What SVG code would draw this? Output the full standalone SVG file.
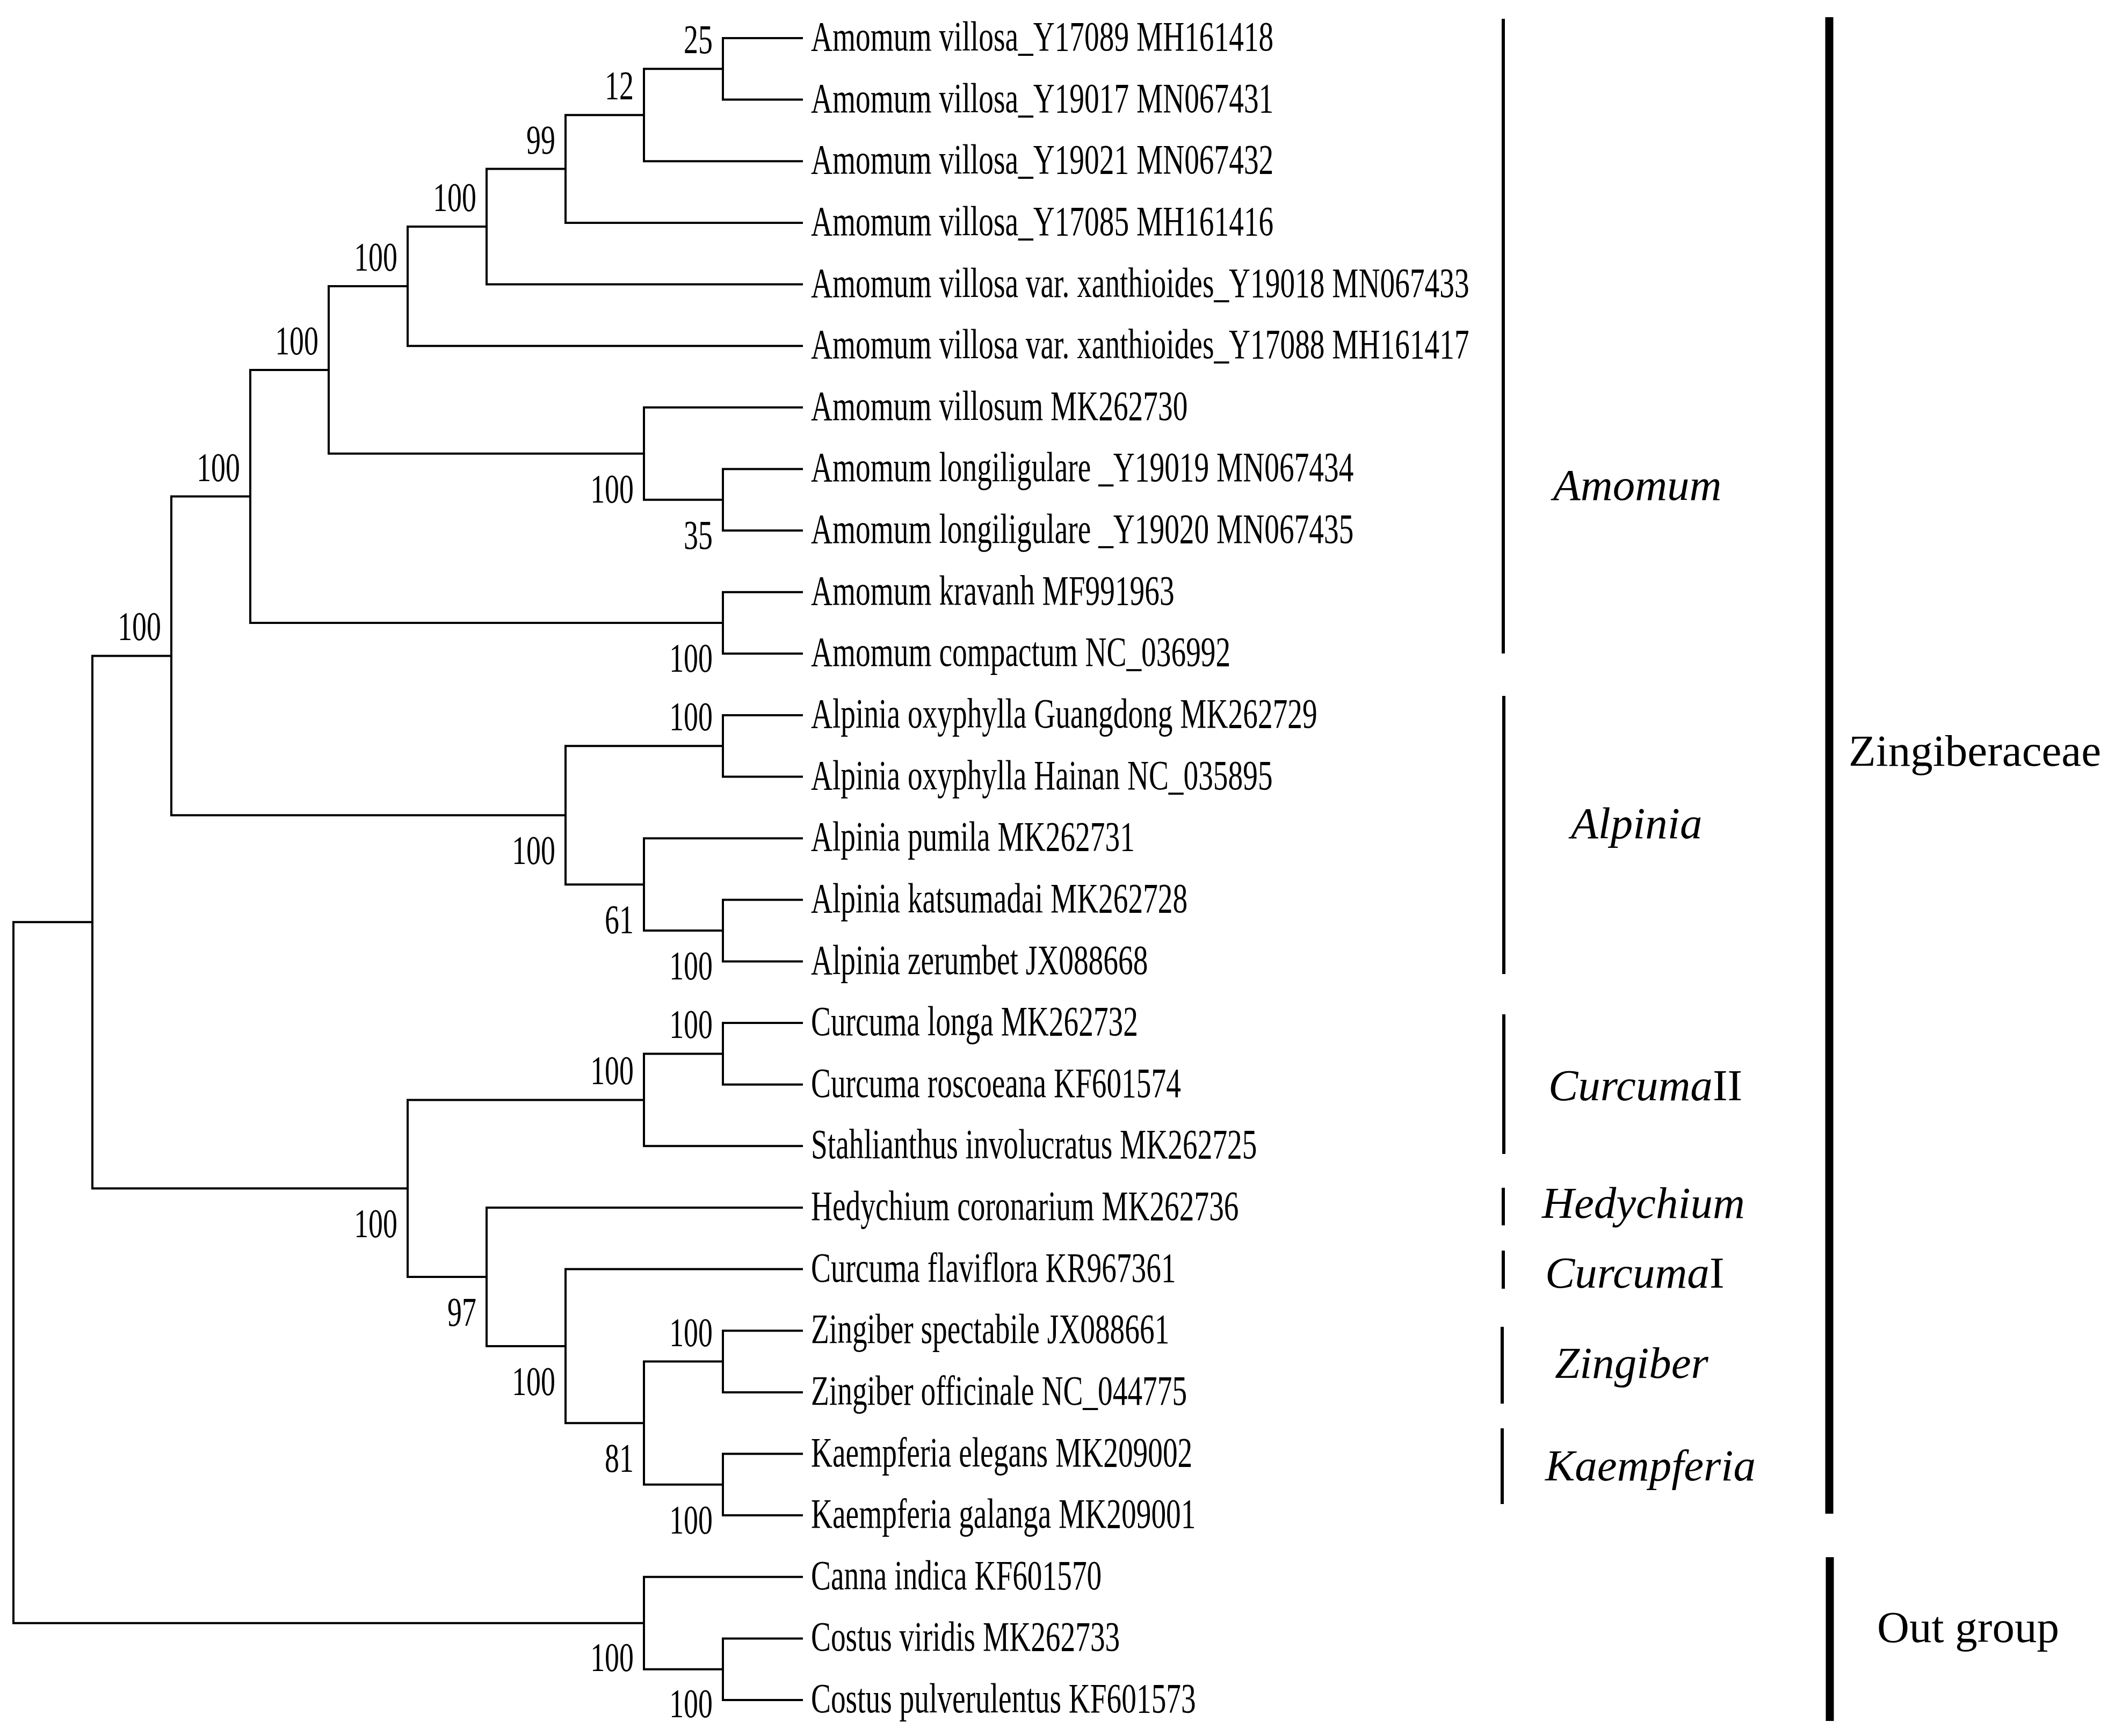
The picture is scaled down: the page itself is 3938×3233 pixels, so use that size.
<svg xmlns="http://www.w3.org/2000/svg" width="3938" height="3233" viewBox="0 0 3938 3233">
<style>
.br{fill:none;stroke:#000;stroke-width:4;stroke-linecap:square;stroke-linejoin:miter}
.tx{font-family:"Liberation Serif","Times New Roman",serif;font-size:78px;fill:#000}
.bs{font-family:"Liberation Serif","Times New Roman",serif;font-size:77px;fill:#000;text-anchor:end}
.gn{font-family:"Liberation Serif","Times New Roman",serif;font-size:83px;font-style:italic;fill:#000}
.fm{font-family:"Liberation Serif","Times New Roman",serif;font-size:83px;fill:#000}
.gb{stroke:#000;stroke-width:6}
.fb{stroke:#000;stroke-width:15}
</style>
<rect width="3938" height="3233" fill="#fff"/>
<g id="connectors">
<path class="br" d="M1493,71 H1346 V185.6 H1493"/>
<path class="br" d="M1346,128.3 H1199 V300.3 H1493"/>
<path class="br" d="M1199,214.3 H1053 V414.9 H1493"/>
<path class="br" d="M1053,314.6 H906 V529.5 H1493"/>
<path class="br" d="M906,422 H759 V644.2 H1493"/>
<path class="br" d="M1493,873.4 H1346 V988 H1493"/>
<path class="br" d="M1493,758.8 H1199 V930.7 H1346"/>
<path class="br" d="M759,533.1 H612 V844.8 H1199"/>
<path class="br" d="M1493,1102.7 H1346 V1217.3 H1493"/>
<path class="br" d="M612,689 H466 V1160 H1346"/>
<path class="br" d="M1493,1331.9 H1346 V1446.6 H1493"/>
<path class="br" d="M1493,1675.8 H1346 V1790.5 H1493"/>
<path class="br" d="M1493,1561.2 H1199 V1733.1 H1346"/>
<path class="br" d="M1346,1389.2 H1053 V1647.2 H1199"/>
<path class="br" d="M466,924.5 H319 V1518.2 H1053"/>
<path class="br" d="M1493,1905.1 H1346 V2019.7 H1493"/>
<path class="br" d="M1346,1962.4 H1199 V2134.3 H1493"/>
<path class="br" d="M1493,2478.2 H1346 V2592.9 H1493"/>
<path class="br" d="M1493,2707.5 H1346 V2822.1 H1493"/>
<path class="br" d="M1346,2535.6 H1199 V2764.8 H1346"/>
<path class="br" d="M1493,2363.6 H1053 V2650.2 H1199"/>
<path class="br" d="M1493,2249 H906 V2506.9 H1053"/>
<path class="br" d="M1199,2048.4 H759 V2378 H906"/>
<path class="br" d="M319,1221.4 H172 V2213.2 H759"/>
<path class="br" d="M1493,3051.4 H1346 V3166 H1493"/>
<path class="br" d="M1493,2936.8 H1199 V3108.7 H1346"/>
<path class="br" d="M172,1717.3 H25 V3022.8 H1199"/>
</g>
<g id="leaves">
<g id="leaf1"><text class="tx" transform="translate(1510,94) scale(0.71,1)">Amomum villosa_Y17089 MH161418</text></g>
<g id="leaf2"><text class="tx" transform="translate(1510,208.6) scale(0.71,1)">Amomum villosa_Y19017 MN067431</text></g>
<g id="leaf3"><text class="tx" transform="translate(1510,323.3) scale(0.71,1)">Amomum villosa_Y19021 MN067432</text></g>
<g id="leaf4"><text class="tx" transform="translate(1510,437.9) scale(0.71,1)">Amomum villosa_Y17085 MH161416</text></g>
<g id="leaf5"><text class="tx" transform="translate(1510,552.5) scale(0.71,1)">Amomum villosa var. xanthioides_Y19018 MN067433</text></g>
<g id="leaf6"><text class="tx" transform="translate(1510,667.2) scale(0.71,1)">Amomum villosa var. xanthioides_Y17088 MH161417</text></g>
<g id="leaf7"><text class="tx" transform="translate(1510,781.8) scale(0.71,1)">Amomum villosum MK262730</text></g>
<g id="leaf8"><text class="tx" transform="translate(1510,896.4) scale(0.71,1)">Amomum longiligulare _Y19019 MN067434</text></g>
<g id="leaf9"><text class="tx" transform="translate(1510,1011) scale(0.71,1)">Amomum longiligulare _Y19020 MN067435</text></g>
<g id="leaf10"><text class="tx" transform="translate(1510,1125.7) scale(0.71,1)">Amomum kravanh MF991963</text></g>
<g id="leaf11"><text class="tx" transform="translate(1510,1240.3) scale(0.71,1)">Amomum compactum NC_036992</text></g>
<g id="leaf12"><text class="tx" transform="translate(1510,1354.9) scale(0.71,1)">Alpinia oxyphylla Guangdong MK262729</text></g>
<g id="leaf13"><text class="tx" transform="translate(1510,1469.6) scale(0.71,1)">Alpinia oxyphylla Hainan NC_035895</text></g>
<g id="leaf14"><text class="tx" transform="translate(1510,1584.2) scale(0.71,1)">Alpinia pumila MK262731</text></g>
<g id="leaf15"><text class="tx" transform="translate(1510,1698.8) scale(0.71,1)">Alpinia katsumadai MK262728</text></g>
<g id="leaf16"><text class="tx" transform="translate(1510,1813.5) scale(0.71,1)">Alpinia zerumbet JX088668</text></g>
<g id="leaf17"><text class="tx" transform="translate(1510,1928.1) scale(0.71,1)">Curcuma longa MK262732</text></g>
<g id="leaf18"><text class="tx" transform="translate(1510,2042.7) scale(0.71,1)">Curcuma roscoeana KF601574</text></g>
<g id="leaf19"><text class="tx" transform="translate(1510,2157.3) scale(0.71,1)">Stahlianthus involucratus MK262725</text></g>
<g id="leaf20"><text class="tx" transform="translate(1510,2272) scale(0.71,1)">Hedychium coronarium MK262736</text></g>
<g id="leaf21"><text class="tx" transform="translate(1510,2386.6) scale(0.71,1)">Curcuma flaviflora KR967361</text></g>
<g id="leaf22"><text class="tx" transform="translate(1510,2501.2) scale(0.71,1)">Zingiber spectabile JX088661</text></g>
<g id="leaf23"><text class="tx" transform="translate(1510,2615.9) scale(0.71,1)">Zingiber officinale NC_044775</text></g>
<g id="leaf24"><text class="tx" transform="translate(1510,2730.5) scale(0.71,1)">Kaempferia elegans MK209002</text></g>
<g id="leaf25"><text class="tx" transform="translate(1510,2845.1) scale(0.71,1)">Kaempferia galanga MK209001</text></g>
<g id="leaf26"><text class="tx" transform="translate(1510,2959.8) scale(0.71,1)">Canna indica KF601570</text></g>
<g id="leaf27"><text class="tx" transform="translate(1510,3074.4) scale(0.71,1)">Costus viridis MK262733</text></g>
<g id="leaf28"><text class="tx" transform="translate(1510,3189) scale(0.71,1)">Costus pulverulentus KF601573</text></g>
</g>
<g id="support">
<g id="n25"><text class="bs" transform="translate(1327,99.3) scale(0.7,1)">25</text></g>
<g id="n12"><text class="bs" transform="translate(1180,185.3) scale(0.7,1)">12</text></g>
<g id="n99"><text class="bs" transform="translate(1034,285.6) scale(0.7,1)">99</text></g>
<g id="nA"><text class="bs" transform="translate(887,393) scale(0.7,1)">100</text></g>
<g id="nB"><text class="bs" transform="translate(740,504.1) scale(0.7,1)">100</text></g>
<g id="nC"><text class="bs" transform="translate(593,660) scale(0.7,1)">100</text></g>
<g id="nD"><text class="bs" transform="translate(447,895.5) scale(0.7,1)">100</text></g>
<g id="nE"><text class="bs" transform="translate(300,1192.4) scale(0.7,1)">100</text></g>
<g id="nAo"><text class="bs" transform="translate(1327,1360.2) scale(0.7,1)">100</text></g>
<g id="nCl"><text class="bs" transform="translate(1327,1933.4) scale(0.7,1)">100</text></g>
<g id="nC2"><text class="bs" transform="translate(1180,2019.4) scale(0.7,1)">100</text></g>
<g id="nZi"><text class="bs" transform="translate(1327,2506.6) scale(0.7,1)">100</text></g>
<g id="nV"><text class="bs" transform="translate(1180,935.8) scale(0.7,1)">100</text></g>
<g id="n35"><text class="bs" transform="translate(1327,1021.7) scale(0.7,1)">35</text></g>
<g id="nK"><text class="bs" transform="translate(1327,1251) scale(0.7,1)">100</text></g>
<g id="nAl"><text class="bs" transform="translate(1034,1609.2) scale(0.7,1)">100</text></g>
<g id="n61"><text class="bs" transform="translate(1180,1738.2) scale(0.7,1)">61</text></g>
<g id="nZa"><text class="bs" transform="translate(1327,1824.1) scale(0.7,1)">100</text></g>
<g id="nG"><text class="bs" transform="translate(740,2304.2) scale(0.7,1)">100</text></g>
<g id="n97"><text class="bs" transform="translate(887,2469) scale(0.7,1)">97</text></g>
<g id="nF"><text class="bs" transform="translate(1034,2597.9) scale(0.7,1)">100</text></g>
<g id="n81"><text class="bs" transform="translate(1180,2741.2) scale(0.7,1)">81</text></g>
<g id="nKa"><text class="bs" transform="translate(1327,2855.8) scale(0.7,1)">100</text></g>
<g id="nO"><text class="bs" transform="translate(1180,3112) scale(0.7,1)">100</text></g>
<g id="nCo"><text class="bs" transform="translate(1327,3198) scale(0.7,1)">100</text></g>
</g>
<g id="clades">
<g id="amomum"><line class="gb" x1="2799" y1="35" x2="2799" y2="1217"/><text class="gn" x="2892" y="931">Amomum</text></g>
<g id="alpinia"><line class="gb" x1="2800" y1="1296" x2="2800" y2="1814"/><text class="gn" x="2925" y="1561">Alpinia</text></g>
<g id="curcuma2"><line class="gb" x1="2800" y1="1889" x2="2800" y2="2149"/><text class="gn" x="2883" y="2049">Curcuma<tspan font-style="normal">II</tspan></text></g>
<g id="hedychium"><line class="gb" x1="2799" y1="2212" x2="2799" y2="2282"/><text class="gn" x="2871" y="2268">Hedychium</text></g>
<g id="curcuma1"><line class="gb" x1="2799" y1="2329" x2="2799" y2="2400"/><text class="gn" x="2877" y="2398">Curcuma<tspan font-style="normal">I</tspan></text></g>
<g id="zingiber"><line class="gb" x1="2797" y1="2471" x2="2797" y2="2614"/><text class="gn" x="2895" y="2566">Zingiber</text></g>
<g id="kaempferia"><line class="gb" x1="2797" y1="2660" x2="2797" y2="2801"/><text class="gn" x="2877" y="2757">Kaempferia</text></g>
<g id="zingiberaceae"><line class="fb" x1="3406" y1="32" x2="3406" y2="2819"/><text class="fm" x="3442" y="1426">Zingiberaceae</text></g>
<g id="outgroup"><line class="fb" x1="3407" y1="2900" x2="3407" y2="3205"/><text class="fm" x="3495" y="3058">Out group</text></g>
</g>
</svg>
